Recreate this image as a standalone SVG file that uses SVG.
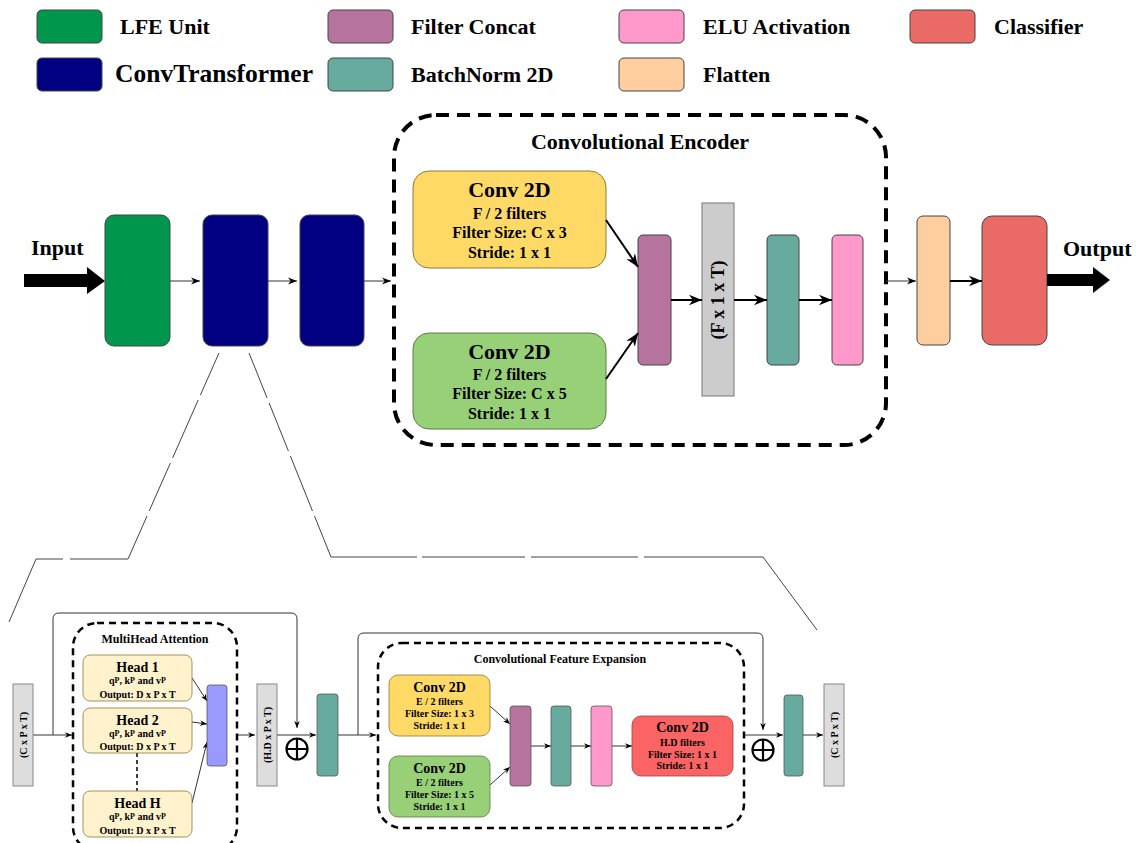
<svg xmlns="http://www.w3.org/2000/svg" width="1136" height="843" viewBox="0 0 1136 843">
<defs>
<style>
text{font-family:"Liberation Serif","Times New Roman",serif;font-weight:bold;fill:#000}
.lg{font-size:22px}
.bx{stroke:#444;stroke-width:1}
.thin{stroke:#333;stroke-width:1;fill:none}
.thick{stroke:#000;stroke-width:2;fill:none}
.zoomln{stroke:#444;stroke-width:1;fill:none}
.dash1{fill:none;stroke:#000;stroke-width:4;stroke-dasharray:13 8}
.dash2{fill:none;stroke:#000;stroke-width:2.5;stroke-dasharray:7 5}
.m{text-anchor:middle}
</style>
<marker id="aT" viewBox="0 0 10 10" refX="10" refY="5" markerWidth="9" markerHeight="9" markerUnits="userSpaceOnUse" orient="auto"><path d="M0,1 L10,5 L0,9 L3,5 z" fill="#000"/></marker>
<marker id="aS" viewBox="0 0 10 10" refX="10" refY="5" markerWidth="7" markerHeight="7" markerUnits="userSpaceOnUse" orient="auto"><path d="M0,1 L10,5 L0,9 L3,5 z" fill="#000"/></marker>
<marker id="aB" viewBox="0 0 10 10" refX="10" refY="5" markerWidth="13" markerHeight="13" markerUnits="userSpaceOnUse" orient="auto"><path d="M0,1 L10,5 L0,9 L3,5 z" fill="#000"/></marker>
</defs>
<rect width="1136" height="843" fill="#fff"/>

<g id="legend">
<rect class="bx" x="37" y="10" width="65" height="33" rx="5" fill="#00964B"/>
<text class="lg" x="120" y="34">LFE Unit</text>
<rect class="bx" x="328" y="10" width="65" height="33" rx="5" fill="#B5739D"/>
<text class="lg" x="411" y="34">Filter Concat</text>
<rect class="bx" x="619" y="10" width="65" height="33" rx="5" fill="#FF99CC"/>
<text class="lg" x="703" y="34">ELU Activation</text>
<rect class="bx" x="910" y="10" width="65" height="33" rx="5" fill="#EA6B66"/>
<text class="lg" x="994" y="34">Classifier</text>
<rect class="bx" x="37" y="58" width="65" height="33" rx="5" fill="#000080"/>
<text x="115" y="82" font-size="25" textLength="198" lengthAdjust="spacingAndGlyphs">ConvTransformer</text>
<rect class="bx" x="328" y="58" width="65" height="33" rx="5" fill="#67AB9F"/>
<text class="lg" x="411" y="82">BatchNorm 2D</text>
<rect class="bx" x="619" y="58" width="65" height="33" rx="5" fill="#FFCE9F"/>
<text class="lg" x="703" y="82">Flatten</text>
</g>

<g id="input">
<polygon points="24,274 87,274 87,267 105,281 87,294 87,287 24,287" fill="#000"/>
<text x="31" y="255" font-size="22">Input</text>
</g>
<g id="lfe"><rect class="bx" x="105" y="215" width="65" height="131" rx="9" fill="#00964B"/></g>
<g id="convt1"><rect class="bx" x="203" y="215" width="65" height="131" rx="9" fill="#000080"/></g>
<g id="convt2"><rect class="bx" x="300" y="215" width="64" height="131" rx="9" fill="#000080"/></g>

<g id="encoder">
<rect class="dash1" x="394" y="115" width="492" height="330" rx="42"/>
<text class="m" x="640" y="149" font-size="22">Convolutional Encoder</text>
</g>
<g id="conv-a">
<rect x="413" y="171" width="193" height="97" rx="16" fill="#FFD966" stroke="#8c7a3a" stroke-width="1"/>
<text class="m" x="509.5" y="197" font-size="22">Conv 2D</text>
<text class="m" x="509.5" y="219" font-size="16">F / 2 filters</text>
<text class="m" x="509.5" y="238" font-size="16">Filter Size: C x 3</text>
<text class="m" x="509.5" y="258" font-size="16">Stride: 1 x 1</text>
</g>
<g id="conv-b">
<rect x="413" y="333" width="193" height="96" rx="16" fill="#97D077" stroke="#5c7a4a" stroke-width="1"/>
<text class="m" x="509.5" y="359" font-size="22">Conv 2D</text>
<text class="m" x="509.5" y="380" font-size="16">F / 2 filters</text>
<text class="m" x="509.5" y="399" font-size="16">Filter Size: C x 5</text>
<text class="m" x="509.5" y="419" font-size="16">Stride: 1 x 1</text>
</g>
<g id="concat"><rect class="bx" x="638" y="235" width="33" height="130" rx="5" fill="#B5739D"/></g>
<g id="reshape">
<rect x="702" y="203" width="32" height="193" fill="#CCCCCC" stroke="#777" stroke-width="1"/>
<text class="m" transform="translate(718,300) rotate(-90)" font-size="18" dominant-baseline="central">(F x 1 x T)</text>
</g>
<g id="bn"><rect class="bx" x="767" y="235" width="32" height="130" rx="5" fill="#67AB9F"/></g>
<g id="elu"><rect class="bx" x="832" y="235" width="31" height="130" rx="5" fill="#FF99CC"/></g>
<g id="flatten"><rect class="bx" x="917" y="216" width="33" height="129" rx="6" fill="#FFCE9F"/></g>
<g id="classifier"><rect class="bx" x="982" y="216" width="65" height="129" rx="10" fill="#EA6B66"/></g>
<g id="output">
<polygon points="1047,274 1093,274 1093,267 1110,280 1093,293 1093,286 1047,286" fill="#000"/>
<text x="1063" y="256" font-size="22">Output</text>
</g>

<g id="connectors">
<line class="thin" x1="170" y1="281" x2="200" y2="281" marker-end="url(#aT)"/>
<line class="thin" x1="268" y1="281" x2="297" y2="281" marker-end="url(#aT)"/>
<line class="thin" x1="364" y1="281" x2="391" y2="281" marker-end="url(#aT)"/>
<line class="thick" x1="606" y1="220" x2="638" y2="267" marker-end="url(#aB)"/>
<line class="thick" x1="606" y1="379" x2="638" y2="333" marker-end="url(#aB)"/>
<line class="thick" x1="671" y1="300" x2="702" y2="300" marker-end="url(#aB)"/>
<line class="thick" x1="734" y1="300" x2="767" y2="300" marker-end="url(#aB)"/>
<line class="thick" x1="799" y1="300" x2="832" y2="300" marker-end="url(#aB)"/>
<line class="thin" x1="886" y1="281" x2="916" y2="281" marker-end="url(#aT)"/>
<line class="thick" x1="950" y1="281" x2="982" y2="281" marker-end="url(#aB)"/>
<path class="zoomln" d="M219,353 L200.4,395 M198.2,400 L172.6,458 M170.4,463 L149.2,511 M147,516 L128,559 L70,559 M63,559 L36,559 L9,622"/>
<path class="zoomln" d="M249,353 L267.1,398 M269.1,403 L288.4,451 M290.4,456 L312.5,511 M314.5,516 L331,557 L417,557 M422,557 L525,557 M531,557 L638,557 M644,557 L763,557 L817,630"/>
<line class="thin" x1="33" y1="735" x2="72" y2="735" marker-end="url(#aS)"/>
<path class="thin" d="M53,735 V619 Q53,613 59,613 H291 Q297,613 297,619 V728" marker-end="url(#aS)"/>
<line class="thin" x1="192" y1="678" x2="207" y2="701" marker-end="url(#aS)" stroke-width="0.8"/>
<line class="thin" x1="192" y1="722" x2="207" y2="724" marker-end="url(#aS)" stroke-width="0.8"/>
<line class="thin" x1="192" y1="803" x2="207" y2="742" marker-end="url(#aS)" stroke-width="0.8"/>
<line x1="137" y1="753" x2="137" y2="791" stroke="#000" stroke-width="1.5" stroke-dasharray="4 3"/>
<line class="thin" x1="237" y1="735" x2="255" y2="735" marker-end="url(#aS)"/>
<line class="thin" x1="277" y1="735" x2="316" y2="735" marker-end="url(#aS)"/>
<line class="thin" x1="338" y1="735" x2="376" y2="735" marker-end="url(#aS)"/>
<path class="thin" d="M358,735 V639 Q358,633 364,633 H757 Q763,633 763,639 V730" marker-end="url(#aS)"/>
<line class="thin" x1="490" y1="706" x2="510" y2="724" marker-end="url(#aS)" stroke-width="0.8"/>
<line class="thin" x1="490" y1="785" x2="510" y2="767" marker-end="url(#aS)" stroke-width="0.8"/>
<line class="thin" x1="531" y1="746" x2="551" y2="746" marker-end="url(#aS)"/>
<line class="thin" x1="571" y1="746" x2="591" y2="746" marker-end="url(#aS)"/>
<line class="thin" x1="612" y1="746" x2="632" y2="746" marker-end="url(#aS)"/>
<line class="thin" x1="744" y1="735" x2="783" y2="735" marker-end="url(#aS)"/>
<line class="thin" x1="803" y1="735" x2="823" y2="735" marker-end="url(#aS)"/>
</g>

<g id="in-cpt">
<rect x="13" y="684" width="20" height="102" fill="#DDDDDD" stroke="#888" stroke-width="1"/>
<text class="m" transform="translate(23,735) rotate(-90)" font-size="10" dominant-baseline="central">(C x P x T)</text>
</g>
<g id="mha">
<rect class="dash2" x="73" y="623" width="164" height="228" rx="24"/>
<text class="m" x="155" y="643" font-size="12">MultiHead Attention</text>
</g>
<g id="head1">
<rect x="83" y="655" width="109" height="46" rx="7" fill="#FFF2CC" stroke="#8c7a3a" stroke-width="0.8"/>
<text class="m" x="137.5" y="672" font-size="14">Head 1</text>
<text class="m" x="137.5" y="684" font-size="10">q<tspan font-size="8" dy="-1">P</tspan><tspan dy="1">, k</tspan><tspan font-size="8" dy="-1">P</tspan><tspan dy="1"> and v</tspan><tspan font-size="8" dy="-1">P</tspan></text>
<text class="m" x="137.5" y="698" font-size="10">Output: D x P x T</text>
</g>
<g id="head2">
<rect x="83" y="708" width="109" height="45" rx="7" fill="#FFF2CC" stroke="#8c7a3a" stroke-width="0.8"/>
<text class="m" x="137.5" y="725" font-size="14">Head 2</text>
<text class="m" x="137.5" y="737" font-size="10">q<tspan font-size="8" dy="-1">P</tspan><tspan dy="1">, k</tspan><tspan font-size="8" dy="-1">P</tspan><tspan dy="1"> and v</tspan><tspan font-size="8" dy="-1">P</tspan></text>
<text class="m" x="137.5" y="750" font-size="10">Output: D x P x T</text>
</g>
<g id="headH">
<rect x="83" y="791" width="109" height="46" rx="7" fill="#FFF2CC" stroke="#8c7a3a" stroke-width="0.8"/>
<text class="m" x="137.5" y="808" font-size="14">Head H</text>
<text class="m" x="137.5" y="820" font-size="10">q<tspan font-size="8" dy="-1">P</tspan><tspan dy="1">, k</tspan><tspan font-size="8" dy="-1">P</tspan><tspan dy="1"> and v</tspan><tspan font-size="8" dy="-1">P</tspan></text>
<text class="m" x="137.5" y="834" font-size="10">Output: D x P x T</text>
</g>
<g id="headcat"><rect x="207" y="685" width="20" height="81" rx="3" fill="#9999FF" stroke="#555" stroke-width="0.8"/></g>
<g id="hdpt">
<rect x="257" y="684" width="20" height="102" fill="#DDDDDD" stroke="#888" stroke-width="1"/>
<text class="m" transform="translate(267,735) rotate(-90)" font-size="10" dominant-baseline="central">(H.D x P x T)</text>
</g>
<g id="add1">
<circle cx="297" cy="749" r="10.5" fill="none" stroke="#000" stroke-width="2.2"/>
<path d="M286.5,749 H307.5 M297,738.5 V759.5" stroke="#000" stroke-width="2.2"/>
</g>
<g id="bn-b1"><rect x="317" y="694" width="21" height="82" rx="3" fill="#67AB9F" stroke="#555" stroke-width="0.8"/></g>
<g id="cfe">
<rect class="dash2" x="378" y="643" width="366" height="185" rx="24"/>
<text class="m" x="560" y="663" font-size="12">Convolutional Feature Expansion</text>
</g>
<g id="cfe-conv-a">
<rect x="389" y="675" width="101" height="61" rx="9" fill="#FFD966" stroke="#8c7a3a" stroke-width="0.8"/>
<text class="m" x="439.5" y="692" font-size="14">Conv 2D</text>
<text class="m" x="439.5" y="705" font-size="10">E / 2 filters</text>
<text class="m" x="439.5" y="717" font-size="10">Filter Size: 1 x 3</text>
<text class="m" x="439.5" y="729" font-size="10">Stride: 1 x 1</text>
</g>
<g id="cfe-conv-b">
<rect x="389" y="756" width="101" height="61" rx="9" fill="#97D077" stroke="#5c7a4a" stroke-width="0.8"/>
<text class="m" x="439.5" y="773" font-size="14">Conv 2D</text>
<text class="m" x="439.5" y="786" font-size="10">E / 2 filters</text>
<text class="m" x="439.5" y="798" font-size="10">Filter Size: 1 x 5</text>
<text class="m" x="439.5" y="810" font-size="10">Stride: 1 x 1</text>
</g>
<g id="cfe-concat"><rect x="510" y="706" width="21" height="80" rx="3" fill="#B5739D" stroke="#555" stroke-width="0.8"/></g>
<g id="cfe-bn"><rect x="551" y="706" width="20" height="80" rx="3" fill="#67AB9F" stroke="#555" stroke-width="0.8"/></g>
<g id="cfe-elu"><rect x="591" y="706" width="21" height="80" rx="3" fill="#FF99CC" stroke="#555" stroke-width="0.8"/></g>
<g id="cfe-conv-c">
<rect x="632" y="716" width="101" height="60" rx="9" fill="#FA6464" stroke="#a04040" stroke-width="0.8"/>
<text class="m" x="682.5" y="732" font-size="14">Conv 2D</text>
<text class="m" x="682.5" y="746" font-size="10">H.D filters</text>
<text class="m" x="682.5" y="758" font-size="10">Filter Size: 1 x 1</text>
<text class="m" x="682.5" y="769" font-size="10">Stride: 1 x 1</text>
</g>
<g id="add2">
<circle cx="763" cy="750" r="10.5" fill="none" stroke="#000" stroke-width="2.2"/>
<path d="M752.5,750 H773.5 M763,739.5 V760.5" stroke="#000" stroke-width="2.2"/>
</g>
<g id="bn-b2"><rect x="784" y="695" width="19" height="81" rx="3" fill="#67AB9F" stroke="#555" stroke-width="0.8"/></g>
<g id="out-cpt">
<rect x="824" y="684" width="20" height="102" fill="#DDDDDD" stroke="#888" stroke-width="1"/>
<text class="m" transform="translate(834,735) rotate(-90)" font-size="10" dominant-baseline="central">(C x P x T)</text>
</g>
</svg>
